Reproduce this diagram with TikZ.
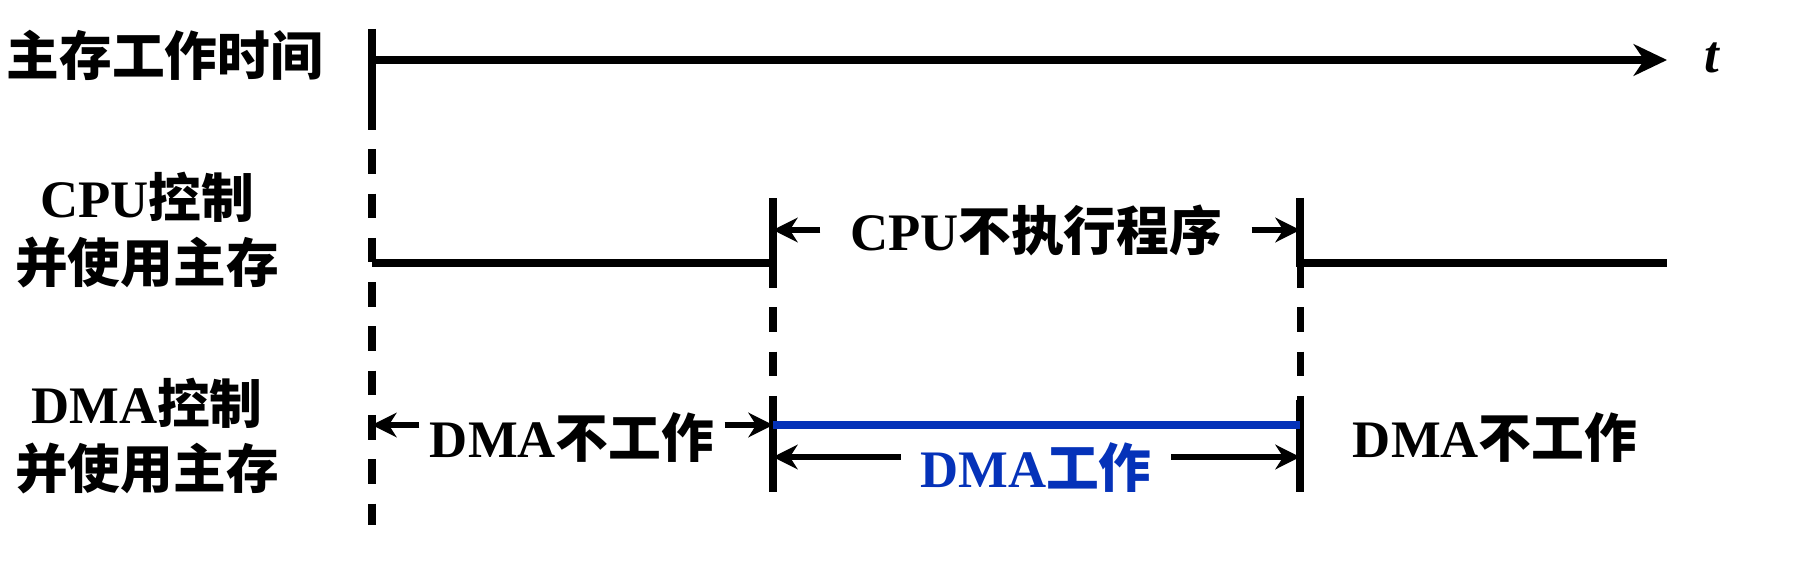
\documentclass[tikz,border=0pt]{standalone}
\usepackage{fontspec}
\usetikzlibrary{arrows.meta}
\setmainfont{Liberation Serif}
\newfontfamily\cjk{Noto Sans CJK SC}
\newcommand{\zh}[1]{{\cjk\bfseries#1}}
\definecolor{dmablue}{RGB}{5,50,185}
\tikzset{
  lbl/.style={font=\fontsize{15}{18.5}\selectfont\bfseries, inner sep=0pt},
  track/.style={line width=2.1pt},
  guide/.style={line width=2pt, dash pattern=on 7pt off 5.6pt},
  dim/.style={-{Stealth[length=7pt,width=7pt,inset=2.2pt]}, line width=1.5pt},
}
\begin{document}
\begin{tikzpicture}[>={Stealth[length=9.5pt,width=9pt,inset=3pt]}, x=0.1mm, y=-0.1mm]
\useasboundingbox (0,0) rectangle (1809,586);
% moments on the time axis
\coordinate (t0) at (372,60);
\coordinate (t1) at (773,60);
\coordinate (t2) at (1300,60);
\coordinate (tend) at (1667,60);
\coordinate (cpurow) at (0,263);
\coordinate (dmarow) at (0,425);
\coordinate (dimrow) at (0,457);
% row labels
\node[lbl, anchor=west] (mem) at (6,55) {\zh{主存工作时间}};
\node[lbl, align=center] (cpu) at (147,230) {CPU\zh{控制}\\\zh{并使用主存}};
\node[lbl, align=center] (dma) at (147,436) {DMA\zh{控制}\\\zh{并使用主存}};
% time axis
\draw[track] (t0 |- 0,29) -- (t0 |- 0,105);
\draw[track,->] (t0) -- (tend);
\node[lbl] (tlab) at (1712,58) {\textit{t}};
% CPU row
\draw[track] (t0 |- cpurow) -- (t1 |- cpurow) -- (t1 |- 0,198);
\draw[track] (t2 |- 0,198) -- (t2 |- cpurow) -- (tend |- cpurow);
\draw[guide] (t0 |- 0,105) -- (t0 |- 0,525);
\draw[guide] (t1 |- cpurow) -- (t1 |- 0,410);
\draw[guide] (t2 |- cpurow) -- (t2 |- 0,400);
\draw[track] (t1 |- 0,410) -- (t1 |- 0,492);
\draw[track] (t2 |- 0,400) -- (t2 |- 0,492);
\node[lbl, inner xsep=2.9mm] (cpuoff) at (1036,230) {CPU\zh{不执行程序}};
\draw[dim] (cpuoff.west) -- (cpuoff.west -| t1);
\draw[dim] (cpuoff.east) -- (cpuoff.east -| t2);
% DMA row
\draw[track, dmablue] (t1 |- dmarow) -- (t2 |- dmarow);
\node[lbl, inner xsep=1mm] (dmaoff) at (572,438) {DMA\zh{不工作}};
\draw[dim] (dmaoff.west |- dmarow) -- (t0 |- dmarow);
\draw[dim] (dmaoff.east |- dmarow) -- (t1 |- dmarow);
\node[lbl, inner xsep=1.9mm, text=dmablue] (dmaon) at (1036,468) {DMA\zh{工作}};
\draw[dim] (dmaon.west |- dimrow) -- (t1 |- dimrow);
\draw[dim] (dmaon.east |- dimrow) -- (t2 |- dimrow);
\node[lbl] (dmaoff2) at (1495,438) {DMA\zh{不工作}};
\end{tikzpicture}
\end{document}
